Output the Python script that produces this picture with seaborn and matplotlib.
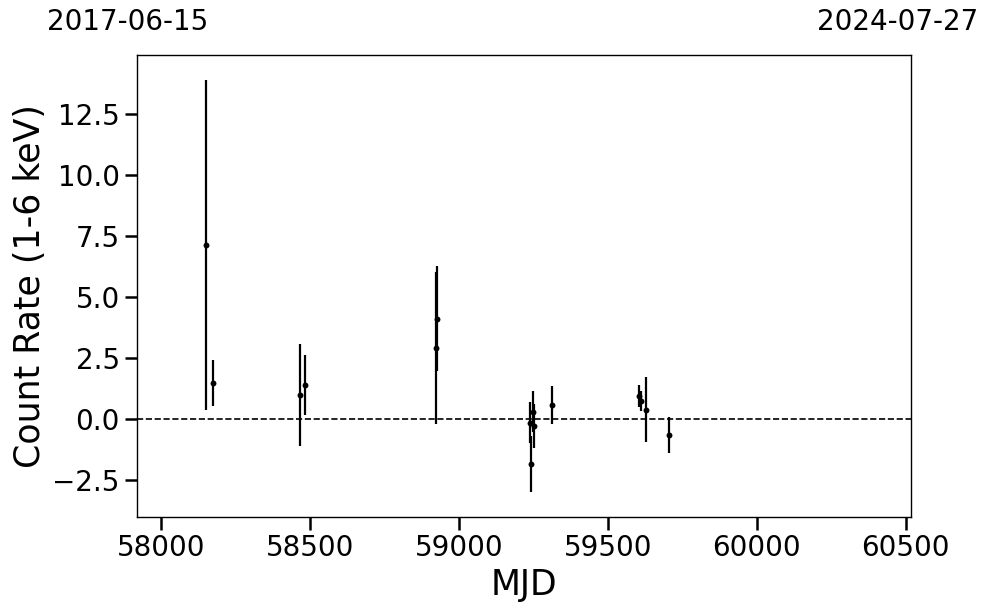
import seaborn as sns
import pandas as pd
import matplotlib
matplotlib.use('Agg')
import matplotlib.pyplot as plt

MJD = [58151, 58174, 58466, 58483, 58922, 58925, 59237, 59242, 59247, 59251,
       59314, 59605, 59611, 59628, 59706]
RATE = [7.13, 1.48, 0.98, 1.39, 2.91, 4.10, -0.15, -1.85, 0.30, -0.30,
        0.57, 0.93, 0.74, 0.37, -0.66]
RATE_ERR = [6.77, 0.95, 2.10, 1.22, 3.10, 2.15, 0.85, 1.15, 0.85, 0.90,
            0.77, 0.45, 0.40, 1.33, 0.73]
DATE_START = '2017-06-15'
DATE_END = '2024-07-27'
MJD_START = 57919
MJD_END = 60518

def lightCurve(df, ax):
  ax.errorbar(df['mjd'], df['rate'], yerr=df['err'], fmt='none',
              ecolor='k', elinewidth=1.6, capsize=0, zorder=2)
  sns.scatterplot(data=df, x='mjd', y='rate', color='k', s=18,
                  edgecolor='k', linewidth=0, ax=ax, zorder=3)
  ax.axhline(0, color='k', ls='--', lw=1.2, zorder=1)
  ax.set_xlim(MJD_START, MJD_END)
  ax.set_ylim(-4.02, 14.92)
  ax.set_xlabel('MJD', fontsize=25)
  ax.set_ylabel('Count Rate (1-6 keV)', fontsize=25)
  ax.tick_params(axis='both', which='major', labelsize=20, length=9, width=1.8,
                 direction='out', color='k', labelcolor='k')
  for s in ax.spines.values():
    s.set_linewidth(1.0)
    s.set_color('k')
    s.set_visible(True)

def main():
  sns.set_style('ticks', {'text.color': 'black', 'axes.labelcolor': 'black',
                          'axes.edgecolor': 'black', 'xtick.color': 'black',
                          'ytick.color': 'black'})
  df = pd.DataFrame({'mjd': MJD, 'rate': RATE, 'err': RATE_ERR})
  fig = plt.figure(figsize=(9.88, 6.13), dpi=100)
  ax = fig.add_axes([0.1387, 0.1566, 0.7834, 0.7537])
  lightCurve(df, ax)
  fig.text(128 / 988, 1 - 22 / 613, DATE_START, fontsize=20, ha='center', va='center')
  fig.text(898 / 988, 1 - 22 / 613, DATE_END, fontsize=20, ha='center', va='center')
  fig.savefig('out.png', dpi=100)

if __name__ == '__main__':
  main()
